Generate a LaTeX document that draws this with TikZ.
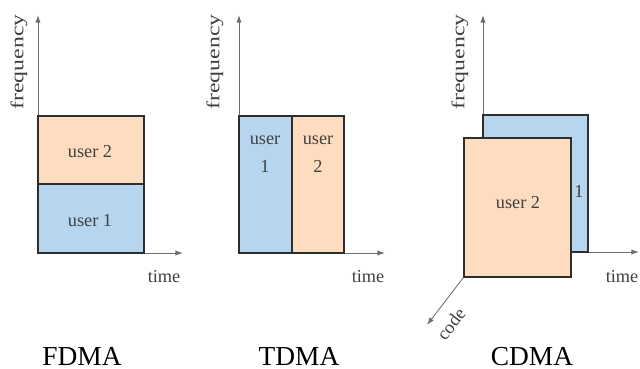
\documentclass[tikz,border=0pt]{standalone}
\usepackage{fontspec}
\setmainfont{Liberation Serif}
\usepackage{tikz}
\usetikzlibrary{arrows.meta}
\definecolor{slotblue}{HTML}{B5D6EE}
\definecolor{slotorange}{HTML}{FDDCC0}
\definecolor{slotedge}{HTML}{2E2E2E}
\definecolor{axisgray}{HTML}{6E6E6E}
\tikzset{
  mx/axis/.style={draw=axisgray, line width=0.6pt, -{Latex[length=1.9mm,width=1.3mm]}},
  mx/slot/.style={draw=slotedge, line width=1.4pt, line join=miter},
  mx/label/.style={font=\fontsize{13}{19.8}\selectfont, text=black!75, inner sep=0pt, anchor=base, align=center},
  mx/axislabel/.style={font=\fontsize{13}{16}\selectfont, text=black!75, inner sep=0pt},
  mx/title/.style={font=\fontsize{19.5}{22}\selectfont, inner sep=0pt, anchor=base, text depth=0pt}
}
\begin{document}
\begin{tikzpicture}[x=0.025cm, y=-0.025cm]
\useasboundingbox (0,0) rectangle (640,369);

% FDMA
\coordinate (fo) at (38,253);
\coordinate (ftop) at (38,15);
\coordinate (fright) at (183,253);
\draw[mx/axis] (fo) -- (ftop);
\draw[mx/axis] (fo) -- (fright);
\fill[slotblue] (38,184) rectangle (144,253);
\fill[slotorange] (38,116) rectangle (144,184);
\draw[mx/slot] (38,116) rectangle (144,253);
\draw[mx/slot] (38,184) -- (144,184);
\node[mx/label] (fu2) at (90,157) {user 2};
\node[mx/label] (fu1) at (90,226) {user 1};
\node[mx/axislabel, rotate=90, xscale=1.3] (ffreq) at (19,62) {frequency};
\node[mx/label] (ftime) at (164,282) {time};
\node[mx/title] (fname) at (82,365) {FDMA};

% TDMA
\coordinate (to) at (239,253);
\coordinate (ttop) at (239,15);
\coordinate (tright) at (385,253);
\draw[mx/axis] (to) -- (ttop);
\draw[mx/axis] (to) -- (tright);
\fill[slotblue] (239,116) rectangle (292,253);
\fill[slotorange] (292,116) rectangle (344,253);
\draw[mx/slot] (239,116) rectangle (344,253);
\draw[mx/slot] (292,116) -- (292,253);
\node[mx/label] (tu1) at (265,172) {user\\1};
\node[mx/label] (tu2) at (318,172) {user\\2};
\node[mx/axislabel, rotate=90, xscale=1.3] (tfreq) at (215,62) {frequency};
\node[mx/label] (ttime) at (368,282) {time};
\node[mx/title] (tname) at (299,365) {TDMA};

% CDMA
\coordinate (co) at (483,252);
\coordinate (ctop) at (483,15);
\coordinate (cright) at (639,252);
\coordinate (ccode) at (427,325);
\draw[mx/axis] (co) -- (ctop);
\draw[mx/axis] (co) -- (cright);
\draw[mx/axis] (co) -- (ccode);
\draw[mx/slot, fill=slotblue] (483,115) rectangle (588,252);
\node[mx/label] (cu1) at (579,197) {1};
\draw[mx/slot, fill=slotorange] (464,138) rectangle (571,277);
\node[mx/label] (cu2) at (518,208) {user 2};
\node[mx/axislabel, rotate=90, xscale=1.3] (cfreq) at (460,62) {frequency};
\node[mx/label] (ctime) at (622,282) {time};
\node[mx/axislabel, rotate=52] (ccodel) at (451,324) {code};
\node[mx/title] (cname) at (532,365) {CDMA};
\end{tikzpicture}
\end{document}
